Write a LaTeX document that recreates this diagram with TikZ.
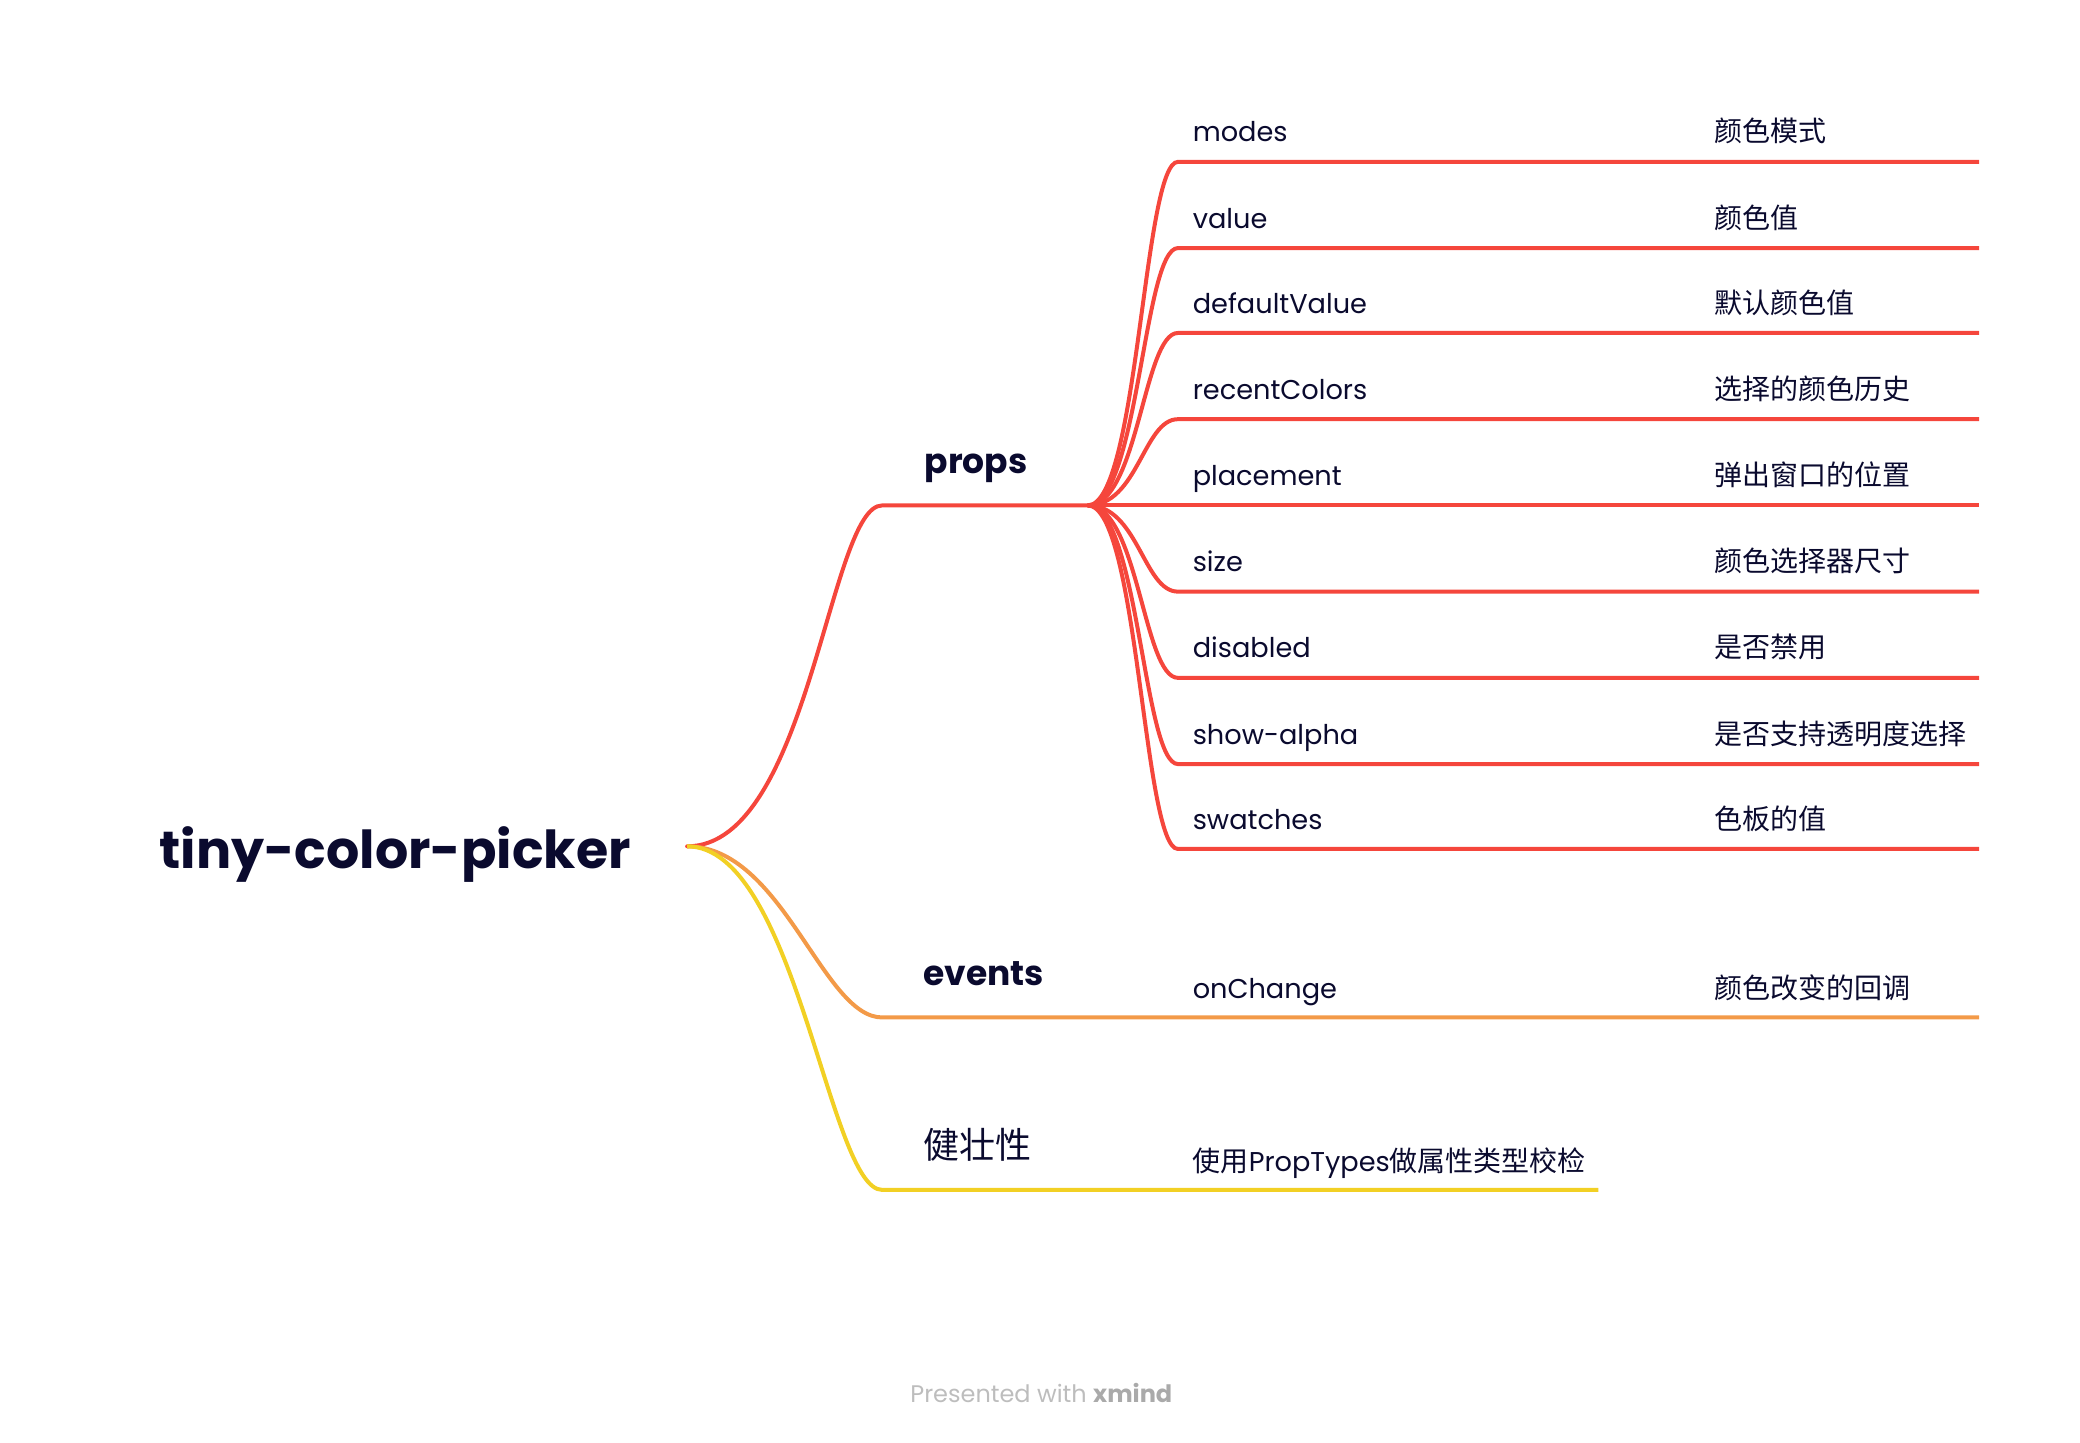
\documentclass[tikz,border=0pt]{standalone}
\usepackage{fontspec}
\setmainfont{Poppins}
\newfontfamily\cjk{Noto Sans CJK SC}
\definecolor{txt}{HTML}{0A0A2E}
\definecolor{xred}{HTML}{F5463C}
\definecolor{xorange}{HTML}{F39A48}
\definecolor{xyellow}{HTML}{F2D024}
\definecolor{foot}{HTML}{BDBDBD}
\definecolor{footb}{HTML}{AAAAAA}
\tikzset{
  lbl/.style={anchor=base west,inner sep=0pt,text=txt,font=\fontsize{27.2}{30}\selectfont},
  zh/.style={anchor=base west,inner sep=0pt,text=txt,font=\cjk\fontsize{28}{30}\selectfont},
  main/.style={anchor=base west,inner sep=0pt,text=txt,font=\bfseries\fontsize{34.5}{40}\selectfont},
  branch/.style={line width=4pt,line cap=round},
}
\begin{document}
\begin{tikzpicture}[x=1.32653pt,y=-1.32653pt]
\useasboundingbox (0,0) rectangle (1568,1087.06);
% root
\node[anchor=base west,inner sep=0pt,text=txt,font=\bfseries\fontsize{52.3}{60}\selectfont] (root) at (120,655) {tiny-color-picker};
\coordinate (R) at (518,638);
% props
\coordinate (pc) at (665,381);
\coordinate (F) at (820,381);
\node[main] (props) at (697,357) {props};
\draw[branch,xred] (R) .. controls (610,638) and (625,381) .. (pc) -- (F);
\foreach \n/\y/\en/\zhtxt in {
  a/122/modes/颜色模式,
  b/187/value/颜色值,
  c/251/defaultValue/默认颜色值,
  d/316/recentColors/选择的颜色历史,
  e/381/placement/弹出窗口的位置,
  f/446/size/颜色选择器尺寸,
  g/511/disabled/是否禁用,
  h/576/show-alpha/是否支持透明度选择,
  i/640/swatches/色板的值}{
  \coordinate (c\n) at (888,\y);
  \coordinate (e\n) at (1492,\y);
  \node[lbl] (en\n) at (899,\y-15) {\en};
  \node[zh] (zh\n) at (1292,\y-15) {\zhtxt};
  \draw[branch,xred,line cap=butt] (F) .. controls (858,381) and (862,\y) .. (c\n) -- (e\n);
}
% events
\coordinate (ec) at (665,767);
\coordinate (ee) at (1492,767);
\node[main] (events) at (696,743) {events};
\node[lbl] (onchange) at (899,753) {onChange};
\node[zh] (cb) at (1292,753) {颜色改变的回调};
\draw[branch,xorange,line cap=butt] (R) .. controls (590,638) and (620,767) .. (ec) -- (ee);
% robustness
\coordinate (yc) at (665,897);
\coordinate (ye) at (1205,897);
\node[anchor=base west,inner sep=0pt,text=txt,font=\cjk\fontsize{36}{40}\selectfont] (robust) at (696,873) {健壮性};
\node[zh] (pt) at (899,883) {使用\fontspec{Poppins}\fontsize{27.2}{30}\selectfont PropTypes\cjk\fontsize{28}{30}\selectfont 做属性类型校检};
\draw[branch,xyellow,line cap=butt] (R) .. controls (600,638) and (625,897) .. (yc) -- (ye);
% footer
\node[anchor=base,inner sep=0pt,text=foot,font=\fontsize{24}{28}\selectfont] (footer) at (785,1057) {Presented with \textcolor{footb}{\bfseries xmind}};
\end{tikzpicture}
\end{document}
